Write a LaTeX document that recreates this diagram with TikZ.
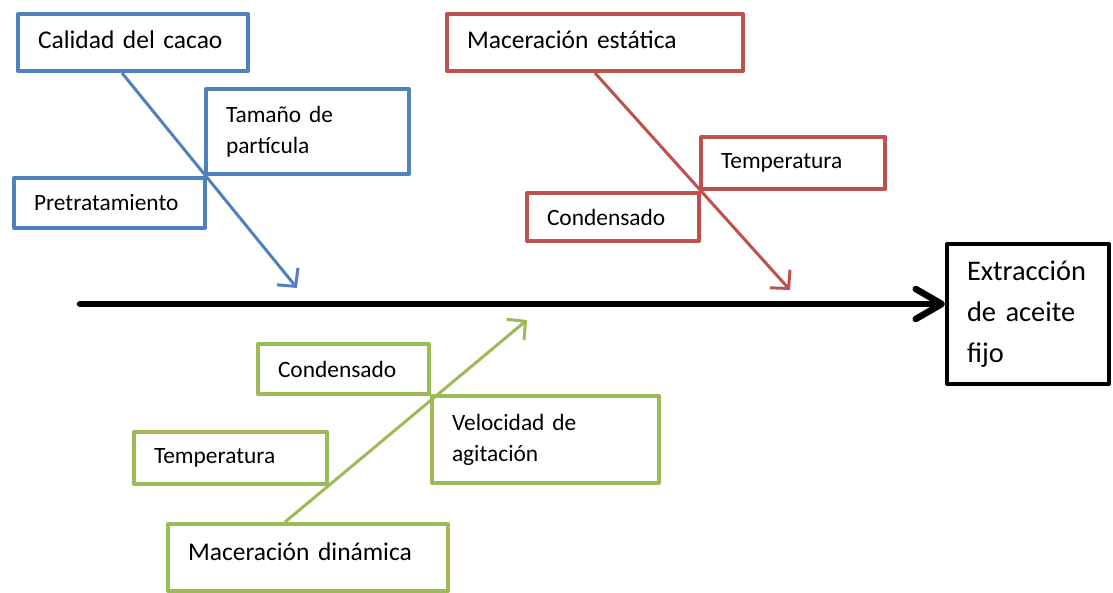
\documentclass[tikz,border=0pt]{standalone}
\usepackage{fontspec}
\setmainfont{Carlito}[WordSpace=0.8]
\usetikzlibrary{arrows.meta,calc}
\definecolor{oblue}{HTML}{4F81BD}
\definecolor{ored}{HTML}{C0504D}
\definecolor{ogreen}{HTML}{9BBB59}
\begin{document}
\begin{tikzpicture}[x=1pt,y=-1pt,
  box/.style={draw, line width=4pt, anchor=north west, align=left, inner xsep=20pt, inner ysep=0pt, line join=round},
  big/.style={font=\fontsize{25.5}{30}\selectfont, text depth=6pt},
  small/.style={font=\fontsize{23.4}{31}\selectfont},
  huge/.style={font=\fontsize{28.4}{41}\selectfont},
  conn/.style={line width=3pt, -{Straight Barb[length=13pt,width=27pt]}},
  mainarrow/.style={line width=6.5pt, line cap=round, -{Straight Barb[length=26pt,width=30pt,round]}}]
\useasboundingbox (0,0) rectangle (1113,593);
% blue
\node[box, draw=oblue, big, text width=190pt, minimum height=57pt] (cal) at (16,12) {Calidad del cacao};
\node[box, draw=oblue, small, text width=163pt, minimum height=85pt] (tam) at (204,87) {Tamaño de\\partícula};
\node[box, draw=oblue, small, text width=151pt, minimum height=50pt] (pre) at (12,176) {Pretratamiento};
% red
\node[box, draw=ored, big, text width=256pt, minimum height=57pt] (mest) at (445,12) {Maceración estática};
\node[box, draw=ored, small, text width=144pt, minimum height=52pt] (temr) at (699,135) {Temperatura};
\node[box, draw=ored, small, text width=132pt, minimum height=48pt] (conr) at (525,191) {Condensado};
% green
\node[box, draw=ogreen, small, text width=131pt, minimum height=50pt] (cong) at (256,342) {Condensado};
\node[box, draw=ogreen, small, text width=187pt, minimum height=87pt] (vel) at (430,394) {Velocidad de\\agitación};
\node[box, draw=ogreen, small, text width=153pt, minimum height=52pt] (temg) at (132,430) {Temperatura};
\node[box, draw=ogreen, big, text depth=12pt, text width=240pt, minimum height=67pt] (mdin) at (166,522) {Maceración dinámica};
% effect
\node[box, draw=black, huge, text width=122pt, minimum height=140pt] (ext) at (945,242) {Extracción\\de aceite\\fijo};
% coordinates
\coordinate (btip) at (297,288);
\coordinate (rtip) at (790,290);
\coordinate (gtip) at (527,320);
\coordinate (ms) at (80,304);
% connectors
\draw[conn, oblue] ($(cal.south west)+(106,0)$) -- (btip);
\draw[conn, ored] ($(mest.south west)+(150,0)$) -- (rtip);
\draw[conn, ogreen] ($(mdin.north west)+(119,0)$) -- (gtip);
\draw[mainarrow] (ms) -- (ms -| ext.west);
\end{tikzpicture}
\end{document}
